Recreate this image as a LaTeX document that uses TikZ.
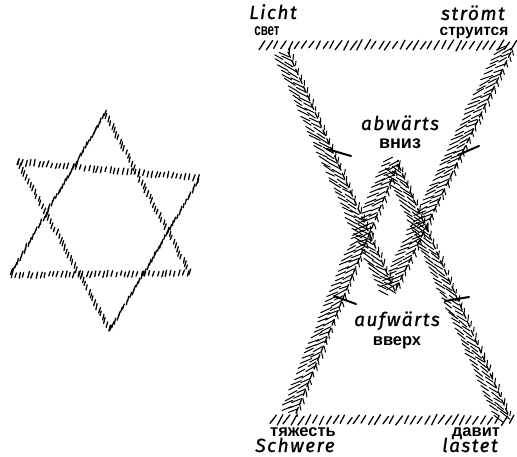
\documentclass[tikz,border=0pt]{standalone}
\usepackage{fontspec}
\setmainfont{Liberation Sans}
\newfontfamily\handfont{Fira Sans}[LetterSpace=8,FakeBold=1]
\usetikzlibrary{decorations.markings,calc}
% one short stroke with a fixed screen angle, slightly jittered
\newcommand\hstroke[3]{%
  \pgftransformresetnontranslations
  \pgfmathsetmacro\ja{#1+6*rand}%
  \pgfmathsetmacro\jl{#2*(1+0.2*rand)/2}%
  \pgfmathsetmacro\jx{0.8*rand}%
  \pgfmathsetmacro\jy{0.8*rand}%
  \draw[line width=#3, line cap=round]
    ({\jx-\jl*cos(\ja)},{\jy-\jl*sin(\ja)}) -- ({\jx+\jl*cos(\ja)},{\jy+\jl*sin(\ja)});%
}
\tikzset{
  hatch/.style n args={4}{decoration={markings,
      mark=between positions 0 and 1 step #1 with {\hstroke{#2}{#3}{#4}}}, decorate},
  spine/.style={line width=1.3pt, dash pattern=on 6pt off 3.5pt, line cap=round},
  crossbar/.style={line width=2pt, line cap=round},
  ru/.style={font=\bfseries\fontsize{16.5}{16.5}\selectfont, anchor=base, inner sep=0pt},
  de/.style={font=\handfont\itshape\fontsize{19}{19}\selectfont, anchor=base, inner sep=0pt},
}
\begin{document}
\begin{tikzpicture}[x=1pt,y=-1pt]
\pgfmathsetseed{11}
\useasboundingbox (0,0) rectangle (517,457);

% ---------- star of David ----------
\coordinate (SA) at (105,113);
\coordinate (SB) at (10,275);
\coordinate (SC) at (190,273);
\coordinate (SD) at (18,162);
\coordinate (SE) at (200,178);
\coordinate (SF) at (110,330);
\path[hatch={4.2pt}{-74}{5.5}{1.3pt}] (SA) -- (SB) -- (SC) -- cycle;
\path[hatch={4.2pt}{-74}{5.5}{1.3pt}] (SD) -- (SE) -- (SF) -- cycle;

% ---------- hourglass ----------
\coordinate (TopL) at (262,45);
\coordinate (TopR) at (516,45);
\coordinate (DL) at (288,52);
\coordinate (DR) at (511,52);
\coordinate (AD) at (395,291);
\coordinate (BotL) at (273,420);
\coordinate (BotR) at (513,420);
\coordinate (UL) at (296,413);
\coordinate (UR) at (508,414);
\coordinate (AU) at (398,164);

% top and bottom edges
\path[hatch={7pt}{-58}{10}{1.3pt}] (TopL) -- (TopR);
\path[hatch={7pt}{-58}{10}{1.3pt}] (BotL) -- (BotR);

% left side of the downward triangle (west normal (-0.894,0.449))
\path[hatch={5.6pt}{30}{11}{1pt}] ($(DL)+(-3.6,1.8)$) -- ($(AD)+(-3.6,1.8)$);
\path[hatch={5.6pt}{30}{11}{1pt}] ($(DL)+(-9.8,4.9)$) -- ($(AD)+(-9.8,4.9)$);
\path[hatch={7pt}{96}{5}{1pt}] ($(DL)+(1.8,-0.9)$) -- ($(AD)+(1.8,-0.9)$);
\draw[spine] (DL) -- (AD);
% right side of the downward triangle (west normal (-0.9,-0.437))
\path[hatch={5.6pt}{-25}{11}{1pt}] ($(DR)+(-3.6,-1.7)$) -- ($(AD)+(-3.6,-1.7)$);
\path[hatch={5.6pt}{-25}{11}{1pt}] ($(DR)+(-9.9,-4.8)$) -- ($(AD)+(-9.9,-4.8)$);
\path[hatch={7pt}{77}{5}{1pt}] ($(DR)+(1.8,0.9)$) -- ($(AD)+(1.8,0.9)$);
\draw[spine] (DR) -- (AD);
% left side of the upward triangle (west normal (-0.9,-0.436))
\path[hatch={5.6pt}{-25}{11}{1pt}] ($(UL)+(-3.6,-1.7)$) -- ($(AU)+(-3.6,-1.7)$);
\path[hatch={5.6pt}{-25}{11}{1pt}] ($(UL)+(-9.9,-4.8)$) -- ($(AU)+(-9.9,-4.8)$);
\path[hatch={7pt}{77}{5}{1pt}] ($(UL)+(1.8,0.9)$) -- ($(AU)+(1.8,0.9)$);
\draw[spine] (UL) -- (AU);
% right side of the upward triangle (west normal (-0.913,0.409))
\path[hatch={5.6pt}{35}{11}{1pt}] ($(UR)+(-3.6,1.6)$) -- ($(AU)+(-3.6,1.6)$);
\path[hatch={5.6pt}{35}{11}{1pt}] ($(UR)+(-10,4.5)$) -- ($(AU)+(-10,4.5)$);
\path[hatch={7pt}{97}{5}{1pt}] ($(UR)+(1.8,-0.8)$) -- ($(AU)+(1.8,-0.8)$);
\draw[spine] (UR) -- (AU);
\fill (AU) ++(0,-3) circle (1.4);

% cross bars on the sides
\coordinate (C1a) at (327,149); \coordinate (C1b) at (351,156);
\coordinate (C2a) at (458,155); \coordinate (C2b) at (479,146);
\coordinate (C3a) at (334,296); \coordinate (C3b) at (356,304);
\coordinate (C4a) at (445,301); \coordinate (C4b) at (469,297);
\draw[crossbar] (C1a) -- (C1b);
\draw[crossbar] (C2a) -- (C2b);
\draw[crossbar] (C3a) -- (C3b);
\draw[crossbar] (C4a) -- (C4b);

% ---------- texts ----------
\node[de] (licht) at (273,19) {Licht};
\node[ru] (svet) at (267,36) {\scalebox{0.7}[1]{свет}};
\node[de] (stroemt) at (473,20) {strömt};
\node[ru, font=\bfseries\fontsize{15.5}{15.5}\selectfont] (struitsya) at (474,36) {струится};
\node[de] (abw) at (400,130) {abwärts};
\node[ru, font=\bfseries\fontsize{18}{18}\selectfont] (vniz) at (400,149) {вниз};
\node[de] (aufw) at (397,326) {aufwärts};
\node[ru] (vverkh) at (397,345) {вверх};
\node[ru] (tyazh) at (303,436) {тяжесть};
\node[de] (schwere) at (295,452) {Schwere};
\node[ru] (davit) at (476,436) {давит};
\node[de] (lastet) at (470,452) {lastet};
\end{tikzpicture}
\end{document}
